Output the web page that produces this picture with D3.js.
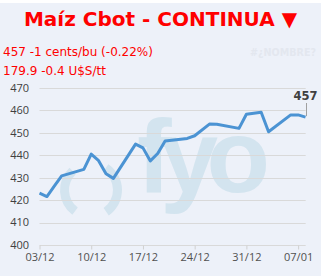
<!DOCTYPE html>
<html>
<head>
<meta charset="utf-8">
<script src="https://cdn.jsdelivr.net/npm/d3@7"></script>
<style>
  body { margin: 0; background: #fff; }
  svg { display: block; }
</style>
</head>
<body>
<script>
// chart data
let dates = ["03/12/2024","04/12/2024","05/12/2024","06/12/2024","09/12/2024","10/12/2024",
  "11/12/2024","12/12/2024","13/12/2024","16/12/2024","17/12/2024","18/12/2024","19/12/2024",
  "20/12/2024","23/12/2024","24/12/2024","26/12/2024","27/12/2024","30/12/2024","31/12/2024",
  "02/01/2025","03/01/2025","06/01/2025","07/01/2025","08/01/2025"];
let prices = [423.1, 421.6, 426.2, 430.8, 433.7, 440.5, 437.6, 431.8, 429.7, 445.0, 443.3,
  437.5, 440.8, 446.4, 447.5, 448.7, 453.9, 453.8, 452.0, 458.3, 459.2, 450.5, 458.0, 458.0, 457.0];
let yTicks = [400, 410, 420, 430, 440, 450, 460, 470];
let xTickLabels = ["03/12/2024","10/12/2024","17/12/2024","24/12/2024","31/12/2024","07/01/2025"];

let title = "Maíz Cbot - CONTINUA ▼";
let line1 = "457 -1 cents/bu (-0.22%)";
let line2 = "179.9 -0.4 U$S/tt";
let lastLabel = "457";

let parseDate = d3.timeParse("%d/%m/%Y");
let fmt = d3.timeFormat("%d/%m");

let data = dates.map((d, i) => ({ date: parseDate(d), price: prices[i] }));

let width = 321, height = 276;

let svg = d3.select("body").append("svg")
  .attr("width", width).attr("height", height);

// background panel
svg.append("rect").attr("x", 0).attr("y", 3).attr("width", width).attr("height", height - 3)
  .attr("fill", "#edf1f9");

// scales
let x = d3.scaleTime()
  .domain([parseDate("03/12/2024"), parseDate("08/01/2025")])
  .range([39.5, 305.5]);
let y = d3.scaleLinear().domain([400, 470]).range([245, 88]);

// watermark logo
let wm = svg.append("g").attr("fill", "#d3e4ef");
let arc = d3.arc().innerRadius(22).outerRadius(31);
wm.append("path").attr("transform", "translate(91,190)")
  .attr("d", arc({ startAngle: 217 * Math.PI / 180, endAngle: 316 * Math.PI / 180 }));
wm.append("path").attr("transform", "translate(91,190)")
  .attr("d", arc({ startAngle: 34 * Math.PI / 180, endAngle: 145 * Math.PI / 180 }));
wm.append("text").attr("x", 137).attr("y", 192)
  .attr("font-family", "Liberation Sans, Arial, sans-serif").attr("font-weight", "bold")
  .attr("font-size", 104).attr("textLength", 133).attr("lengthAdjust", "spacing")
  .text("fyo");

// title and quote lines
svg.append("text").attr("x", 160.5).attr("y", 25.5).attr("text-anchor", "middle")
  .attr("font-family", "DejaVu Sans, Verdana, sans-serif").attr("font-weight", "bold")
  .attr("font-size", 20).attr("fill", "#ff0000").text(title);

svg.append("text").attr("x", 3).attr("y", 56)
  .attr("font-family", "DejaVu Sans, Verdana, sans-serif")
  .attr("font-size", 12).attr("fill", "#ff0000").text(line1);

svg.append("text").attr("x", 3).attr("y", 75)
  .attr("font-family", "DejaVu Sans, Verdana, sans-serif")
  .attr("font-size", 12).attr("fill", "#ff0000").text(line2);

svg.append("text").attr("x", 250).attr("y", 55.5)
  .attr("font-family", "DejaVu Sans, Verdana, sans-serif").attr("font-weight", "bold")
  .attr("font-size", 10).attr("textLength", 66).attr("lengthAdjust", "spacingAndGlyphs")
  .attr("fill", "#e3e7ef").text("#¿NOMBRE?");

// gridlines
svg.append("g").selectAll("line").data(yTicks).join("line")
  .attr("x1", 39.5).attr("x2", 305.7)
  .attr("y1", d => Math.round(y(d)) + 0.5).attr("y2", d => Math.round(y(d)) + 0.5)
  .attr("stroke", "#d9d9d9").attr("stroke-width", 1);

// y labels
svg.append("g").selectAll("text").data(yTicks).join("text")
  .attr("x", 29).attr("y", d => y(d)).attr("dy", "0.35em").attr("text-anchor", "end")
  .attr("font-family", "Open Sans, sans-serif").attr("font-size", 11).attr("fill", "#404040")
  .text(d => d);

// x axis
let xAxis = d3.axisBottom(x)
  .tickValues(xTickLabels.map(parseDate))
  .tickFormat(fmt)
  .tickSize(4)
  .tickPadding(4);

let xg = svg.append("g").attr("transform", "translate(0," + 245.5 + ")").call(xAxis);
xg.select(".domain").remove();
xg.selectAll(".tick line").attr("stroke", "#d0d0d0");
xg.selectAll(".tick text").attr("font-family", "Open Sans, sans-serif")
  .attr("font-size", 11).attr("fill", "#505050");

// price line
let line = d3.line().x(d => x(d.date)).y(d => y(d.price));
svg.append("path").datum(data).attr("d", line)
  .attr("fill", "none").attr("stroke", "#4b93d3").attr("stroke-width", 3)
  .attr("stroke-linejoin", "round");

// last value label
let last = data[data.length - 1];
svg.append("line")
  .attr("x1", Math.round(x(last.date)) + 0.5).attr("x2", Math.round(x(last.date)) + 0.5)
  .attr("y1", 103).attr("y2", y(last.price) - 1)
  .attr("stroke", "#a0a0a0").attr("stroke-width", 1);
svg.append("text").attr("x", x(last.date)).attr("y", 99.5).attr("text-anchor", "middle")
  .attr("font-family", "DejaVu Sans, Verdana, sans-serif").attr("font-weight", "bold")
  .attr("font-size", 11.5).attr("fill", "#404040").text(lastLabel);
</script>
</body>
</html>
